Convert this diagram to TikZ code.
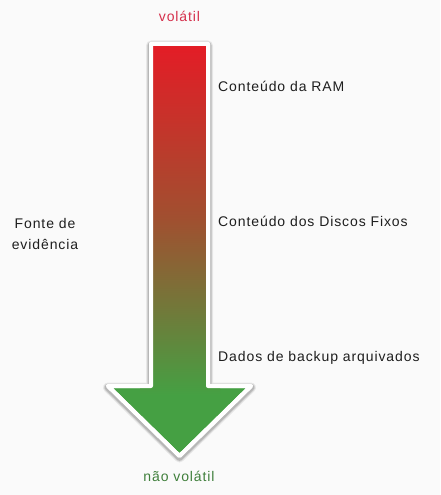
\documentclass[tikz,border=0pt]{standalone}
\usepackage{fontspec}
\setmainfont{Liberation Sans}[LetterSpace=6.5]
\definecolor{bg}{HTML}{FAFAFA}
\definecolor{topred}{RGB}{228,28,38}
\definecolor{botgreen}{RGB}{69,160,67}
\definecolor{volred}{HTML}{D52F4B}
\definecolor{nvgreen}{HTML}{3F7F3B}
\definecolor{txt}{HTML}{1E1E1E}
\tikzset{
  lbl/.style={font=\fontsize{14}{21}\selectfont, text=txt, inner sep=0pt},
  ends/.style={font=\fontsize{14}{21}\selectfont, inner sep=0pt},
  arrowline/.style={draw=white, line width=4pt, line join=round},
  glow/.style={draw=black, line join=round, draw opacity=#1}
}
\begin{document}
\begin{tikzpicture}[x=1pt,y=-1pt]
\useasboundingbox[fill=bg] (0,0) rectangle (440,495);
\def\arrowpath{(151,44) -- (208,44) -- (208,386) -- (251,386) -- (179.5,456) -- (108,386) -- (151,386) -- cycle}
% soft shadow
\begin{scope}[yshift=-1.5pt]
  \path[glow=0.07, line width=10pt] \arrowpath;
  \path[glow=0.09, line width=8pt] \arrowpath;
  \path[glow=0.13, line width=6.5pt] \arrowpath;
\end{scope}
\path[fill=botgreen, arrowline] \arrowpath;
\begin{scope}
  \clip \arrowpath;
  \shade[top color=topred, bottom color=botgreen, middle color={rgb,255:red,160;green,80;blue,48}] (140,44) rectangle (220,395);
\end{scope}
\path[arrowline] \arrowpath;
\node[ends, text=volred, anchor=base] (top) at (179.5,22) {volátil};
\node[ends, text=nvgreen, anchor=base] (bot) at (179,481) {não volátil};
\node[lbl, anchor=base west] (ram) at (218,91) {Conteúdo da RAM};
\node[lbl, anchor=base west] (disk) at (218,226) {Conteúdo dos Discos Fixos};
\node[lbl, anchor=base west] (bkp) at (218,361) {Dados de backup arquivados};
\node[lbl, align=center, anchor=center] (src) at (45,234) {Fonte de\\evidência};
\end{tikzpicture}
\end{document}
